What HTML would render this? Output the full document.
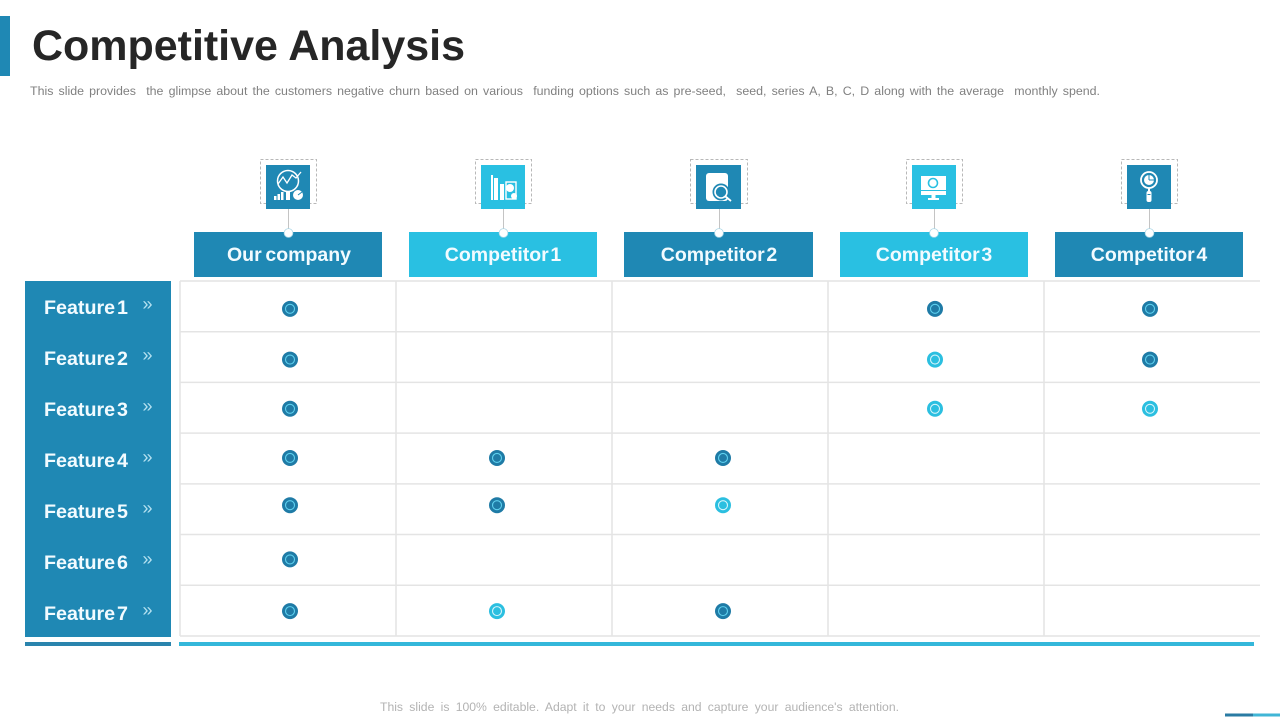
<!DOCTYPE html>
<html lang="en">
<head>
<meta charset="utf-8">
<title>Competitive Analysis</title>
<style>
html,body{margin:0;padding:0;background:#fff;width:1280px;height:720px;overflow:hidden}
svg{display:block}
text{font-family:"Liberation Sans",sans-serif}
.hd{font-size:19.5px;font-weight:bold;fill:#f2fbff;text-anchor:middle}
.ft{font-size:19.7px;font-weight:bold;fill:#f2fbff}
.ch{font-size:18px;fill:#b4e1f0}
.grid{stroke:#e4e4e4;stroke-width:1.5}
.dash{fill:none;stroke:#b8b8b8;stroke-width:1;stroke-dasharray:3 2}
.stem{stroke:#c4c4c4;stroke-width:1}
.knob{fill:#fff;stroke:#a8d6e6;stroke-width:.8}
</style>
</head>
<body>
<svg id="slide" width="1280" height="720" viewBox="0 0 1280 720" xmlns="http://www.w3.org/2000/svg">
  <rect x="0" y="16" width="10" height="60" fill="#1f88b4"/>
  <text x="32" y="60" font-size="43" font-weight="bold" fill="#262626" textLength="433" lengthAdjust="spacing">Competitive Analysis</text>
  <text x="30" y="95" font-size="12.4" fill="#808080" data-fit="1070" xml:space="preserve">This slide provides  the glimpse about the customers negative churn based on various  funding options such as pre-seed,  seed, series A, B, C, D along with the average  monthly spend.</text>

  <g>
    <rect class="dash" x="260.5" y="159.5" width="56" height="44"/>
    <line class="stem" x1="288.5" y1="209" x2="288.5" y2="232"/>
    <g transform="translate(266 165)">
      <rect width="44" height="44" fill="#1f88b4"/>
      <circle cx="22" cy="16" r="10.5" fill="none" stroke="#fff" stroke-width="1.5"/>
      <polyline points="12,19 17,12 21,18 26,10 30,13 35,7" fill="none" stroke="#fff" stroke-width="1.3"/>
      <rect x="20" y="26" width="4" height="9" fill="#fff"/>
      <rect x="8" y="31" width="2.5" height="4" fill="#fff"/><rect x="11.5" y="29" width="2.5" height="6" fill="#fff"/><rect x="15" y="27" width="2.5" height="8" fill="#fff"/>
      <circle cx="32" cy="30" r="5" fill="#fff"/>
      <path d="M32 30 L36 27" stroke="#1f88b4" stroke-width="1"/>
    </g>
  </g>
  <g>
    <rect class="dash" x="475.5" y="159.5" width="56" height="44"/>
    <line class="stem" x1="503.5" y1="209" x2="503.5" y2="232"/>
    <g transform="translate(481 165)">
      <rect width="44" height="44" fill="#29c0e2"/>
      <rect x="10" y="10" width="2" height="25" fill="#fff"/>
      <rect x="13" y="13" width="4" height="22" fill="#fff"/>
      <rect x="19" y="19" width="4" height="16" fill="#fff"/>
      <rect x="25" y="17" width="10" height="17" fill="none" stroke="#fff" stroke-width="1.4"/>
      <circle cx="29" cy="23" r="4" fill="#fff"/>
      <circle cx="33" cy="31" r="3" fill="#fff"/>
    </g>
  </g>
  <g>
    <rect class="dash" x="690.5" y="159.5" width="57" height="44"/>
    <line class="stem" x1="719.5" y1="209" x2="719.5" y2="232"/>
    <g transform="translate(696 165)">
      <rect width="45" height="44" fill="#1f88b4"/>
      <rect x="10" y="8" width="22" height="28" rx="3" fill="#fff"/>
      <circle cx="25" cy="27" r="8.5" fill="#1f88b4"/>
      <circle cx="25" cy="27" r="6" fill="none" stroke="#fff" stroke-width="1.6"/>
      <line x1="29.5" y1="31.5" x2="35" y2="36" stroke="#fff" stroke-width="1.8"/>
    </g>
  </g>
  <g>
    <rect class="dash" x="906.5" y="159.5" width="56" height="44"/>
    <line class="stem" x1="934.5" y1="209" x2="934.5" y2="232"/>
    <g transform="translate(912 165)">
      <rect width="44" height="44" fill="#29c0e2"/>
      <rect x="9" y="11" width="25" height="19" fill="#fff"/>
      <rect x="9" y="25" width="25" height="1" fill="#29c0e2"/>
      <circle cx="21" cy="18" r="4.5" fill="none" stroke="#29c0e2" stroke-width="1.6"/>
      <rect x="19.5" y="30" width="4" height="4" fill="#fff"/>
      <rect x="16" y="33" width="11" height="2" fill="#fff"/>
    </g>
  </g>
  <g>
    <rect class="dash" x="1121.5" y="159.5" width="56" height="44"/>
    <line class="stem" x1="1149.5" y1="209" x2="1149.5" y2="232"/>
    <g transform="translate(1127 165)">
      <rect width="44" height="44" fill="#1f88b4"/>
      <circle cx="22" cy="15" r="8" fill="none" stroke="#fff" stroke-width="1.8"/>
      <circle cx="22" cy="15" r="5" fill="#fff"/>
      <path d="M22 15 L22 10 M22 15 L27 15" stroke="#1f88b4" stroke-width="1"/>
      <rect x="21" y="23" width="2" height="3" fill="#fff"/>
      <rect x="19.5" y="26" width="5" height="11" rx="2" fill="#fff"/>
      <rect x="20.5" y="29" width="3" height="1" fill="#1f88b4"/>
    </g>
  </g>

  <g>
    <rect x="194" y="232" width="188" height="45" fill="#1f88b4"/>
    <rect x="409" y="232" width="188" height="45" fill="#29c0e2"/>
    <rect x="624" y="232" width="189" height="45" fill="#1f88b4"/>
    <rect x="840" y="232" width="188" height="45" fill="#29c0e2"/>
    <rect x="1055" y="232" width="188" height="45" fill="#1f88b4"/>
    <circle class="knob" cx="288.5" cy="233" r="4.4"/>
    <circle class="knob" cx="503.5" cy="233" r="4.4"/>
    <circle class="knob" cx="719" cy="233" r="4.4"/>
    <circle class="knob" cx="934" cy="233" r="4.4"/>
    <circle class="knob" cx="1149.5" cy="233" r="4.4"/>
    <text class="hd" x="289" y="261" data-fit="124">Our company</text>
    <text class="hd" x="503" y="261" data-fit="116.5">Competitor 1</text>
    <text class="hd" x="719" y="261" data-fit="116.5">Competitor 2</text>
    <text class="hd" x="934" y="261" data-fit="116.5">Competitor 3</text>
    <text class="hd" x="1149" y="261" data-fit="116.5">Competitor 4</text>
  </g>

  <rect x="25" y="281" width="146" height="356" fill="#1f88b4"/>
  <g id="features"></g>
  <g id="grid"></g>
  <g id="marks"></g>

  <rect x="25" y="642" width="146" height="4" fill="#2a84ad"/>
  <rect x="179" y="642" width="1075" height="4" fill="#34b7da"/>
  <text x="380" y="711" font-size="12.2" fill="#b3b3b3" data-fit="519">This slide is 100% editable. Adapt it to your needs and capture your audience's attention.</text>
  <rect x="1225" y="713.5" width="28" height="3" fill="#2a7ba3"/>
  <rect x="1253" y="713.5" width="27" height="3" fill="#40b6d6"/>
</svg>
<script>
const features = ['Feature 1','Feature 2','Feature 3','Feature 4','Feature 5','Feature 6','Feature 7'];
const competitors = ['our-company','competitor-1','competitor-2','competitor-3','competitor-4'];
// 0 = no mark, 1 = dark mark, 2 = light mark
const row1 = [1,0,0,1,1];
const row2 = [1,0,0,2,1];
const row3 = [1,0,0,2,2];
const row4 = [1,1,1,0,0];
const row5 = [1,1,2,0,0];
const row6 = [1,0,0,0,0];
const row7 = [1,2,1,0,0];
const rowsData = [row1,row2,row3,row4,row5,row6,row7];

const NS = 'http://www.w3.org/2000/svg';
const gridLeft = 180, colW = 216, gridRight = 1260;
const gridTop = 281, rowH = 50.71;
function xAt(c){ return gridLeft + colW * c; }
function yAt(r){ return gridTop + rowH * r; }
function markX(c){ return xAt(c) + colW / 2 + [2,-7,3,-1,-2][c]; }
function markY(r){ return yAt(r) + rowH / 2 + [2.5,2.5,1,-0.5,-4,-0.5,0.5][r]; }
function make(tag, attrs, parent){
  const el = document.createElementNS(NS, tag);
  for (const k in attrs) el.setAttribute(k, attrs[k]);
  parent.appendChild(el);
  return el;
}

const gridG = document.getElementById('grid');
for (let r = 0; r <= features.length; r++) {
  const l = make('line', {class:'grid', x1:gridLeft, x2:gridRight, y1:yAt(r), y2:yAt(r)}, gridG);
  
  
}
for (let c = 0; c < competitors.length; c++) {
  const l = make('line', {class:'grid', x1:xAt(c), x2:xAt(c), y1:gridTop, y2:yAt(features.length)}, gridG);
  
  
}

const featG = document.getElementById('features');
features.forEach(function(name, r){
  const y = 314 + 51 * r;
  const t = make('text', {class:'ft', x:44, y:y, 'data-fit':84}, featG);
  t.textContent = name;
  
  
  const ch = make('text', {class:'ch', x:142.5, y:y - 4}, featG);
  ch.textContent = '\u00BB';
  
  
});

const marksG = document.getElementById('marks');
rowsData.forEach(function(row, r){
  row.forEach(function(v, c){
    if (!v) return;
    const g = make('g', {transform:'translate(' + markX(c) + ' ' + markY(r) + ')'}, marksG);
    
    
    make('circle', {r:8, fill: v === 1 ? '#1f7ba6' : '#2bbfe0'}, g);
    make('circle', {r:4.5, fill:'none', stroke: v === 1 ? '#5fd0ee' : '#d4f4fb', 'stroke-width':1.1}, g);
  });
});

// Fit text to its measured width by adjusting only the gaps between words.
document.querySelectorAll('text[data-fit]').forEach(function(t){
  const target = parseFloat(t.getAttribute('data-fit'));
  const spaces = (t.textContent.match(/ /g) || []).length;
  if (!spaces) return;
  const natural = t.getComputedTextLength();
  t.style.wordSpacing = ((target - natural) / spaces) + 'px';
});
</script>
</body>
</html>
